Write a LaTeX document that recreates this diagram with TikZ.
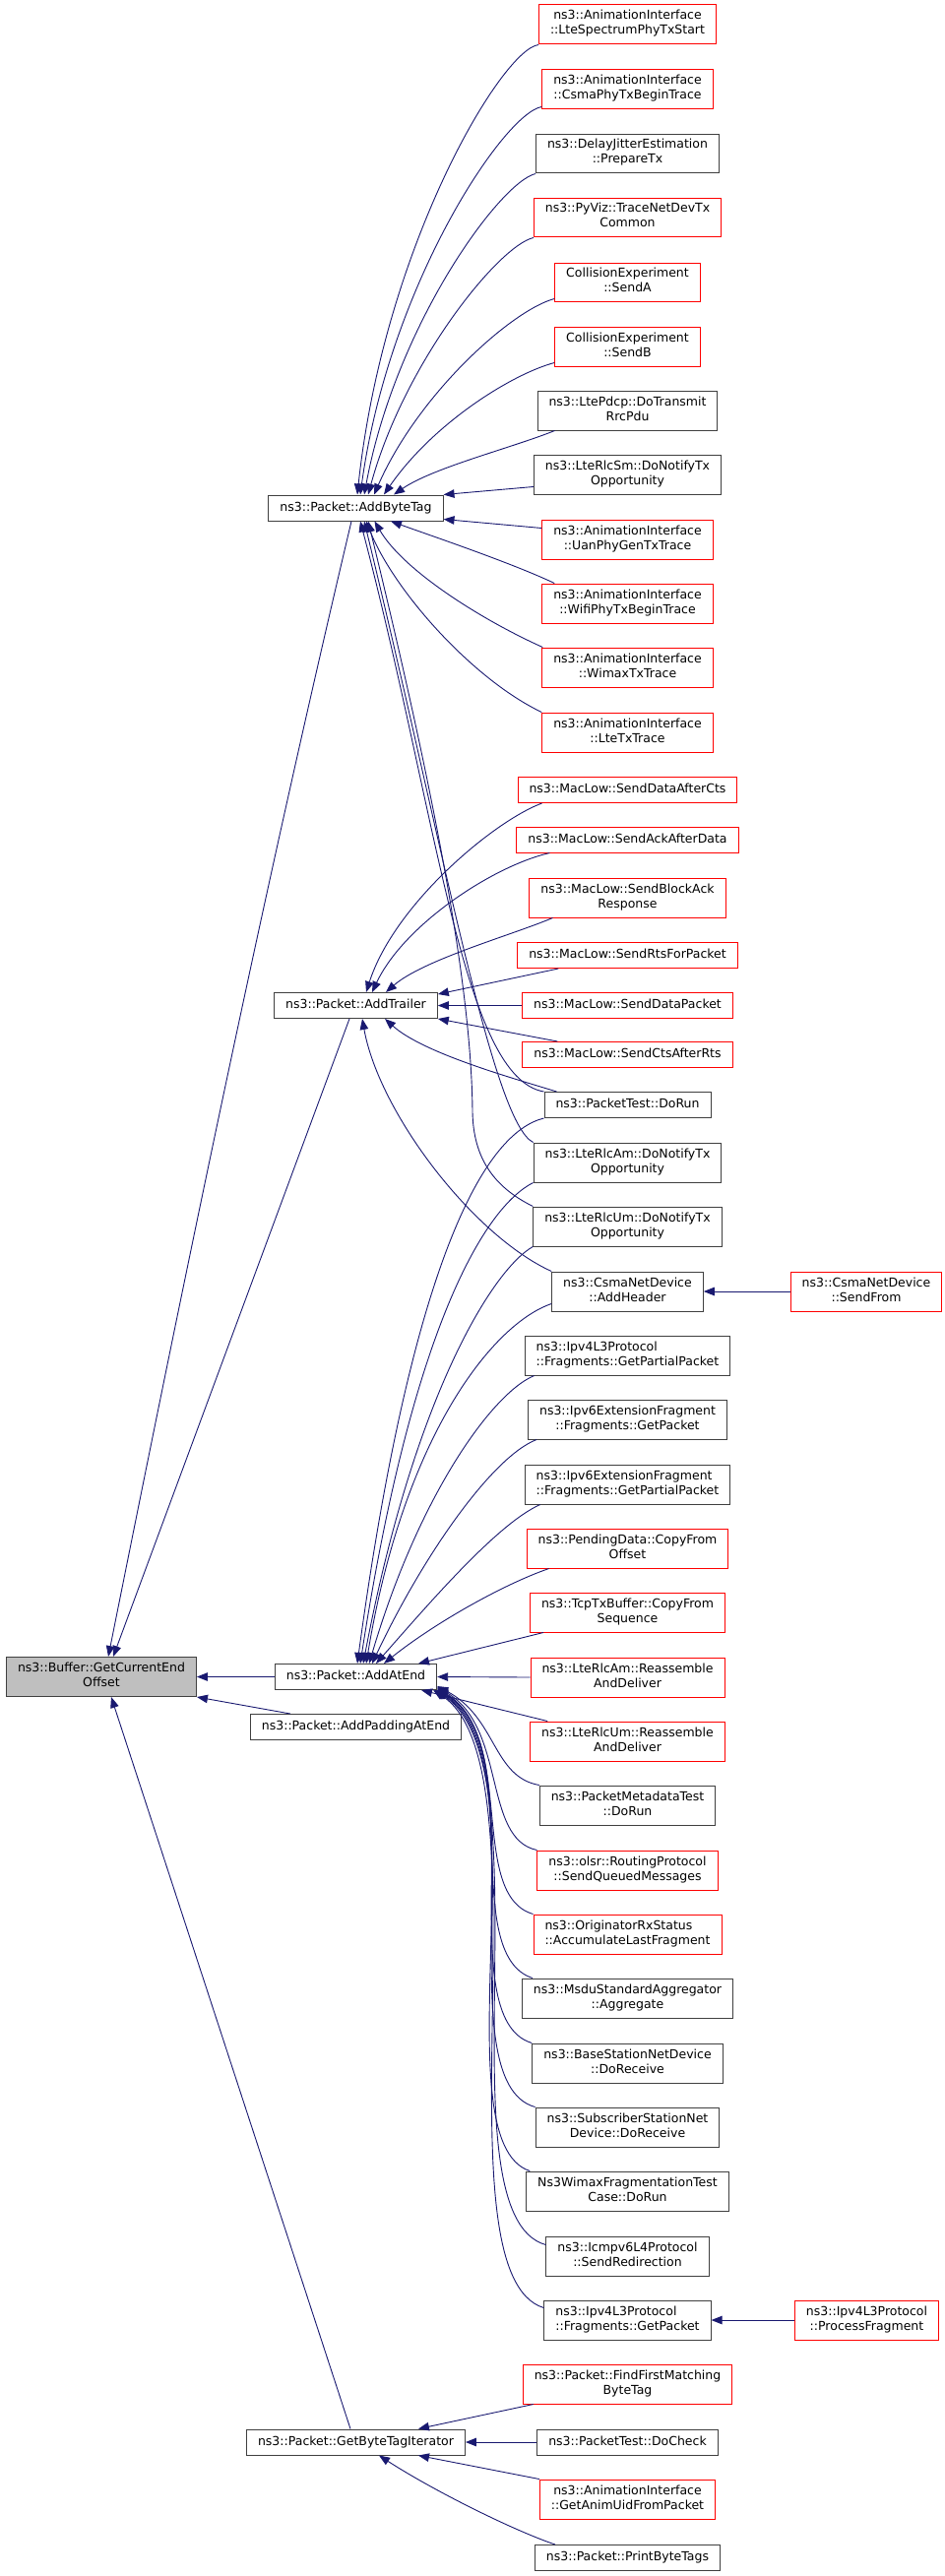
\documentclass[tikz,border=0pt]{standalone}
\usepackage{fontspec}
\setmainfont{DejaVu Sans}
\usetikzlibrary{arrows.meta}
\definecolor{edgeblue}{HTML}{191970}
\definecolor{boxgray}{HTML}{404040}
\definecolor{bufgray}{HTML}{BFBFBF}

\begin{document}
\begin{tikzpicture}[x=1pt, y=-1pt,
  fn/.style={draw=boxgray, line width=1pt, inner xsep=11.5pt, inner ysep=5.5pt, align=center,
    font=\fontsize{12.5}{15}\selectfont, execute at begin node=\strut},
  fnred/.style={fn, draw=red},
  fnleft/.style={fn, align=left},
  call/.style={draw=edgeblue, line width=0.9pt, -{Triangle[length=11pt,width=8.5pt]}}]

  \useasboundingbox (0,0) rectangle (960,2617);

  \node[fn, fill=bufgray] (curEnd) at (103,1703.5) {ns3::Buffer::GetCurrentEnd\\Offset};

  \node[fn] (addTag) at (361.5,516) {ns3::Packet::AddByteTag};
  \node[fn] (addTrl) at (361.5,1021.5) {ns3::Packet::AddTrailer};
  \node[fn] (addEnd) at (361.5,1703.5) {ns3::Packet::AddAtEnd};
  \node[fn] (addPad) at (361.5,1754.5) {ns3::Packet::AddPaddingAtEnd};
  \node[fn] (tagIter) at (361.5,2481) {ns3::Packet::GetByteTagIterator};

  \node[fnred] (lteSpec) at (637.5,25) {ns3::AnimationInterface\\::LteSpectrumPhyTxStart};
  \node[fnred] (csmaPhy) at (637.5,91) {ns3::AnimationInterface\\::CsmaPhyTxBeginTrace};
  \node[fn] (delayJit) at (637.5,156) {ns3::DelayJitterEstimation\\::PrepareTx};
  \node[fnred] (pyViz) at (637.5,221) {ns3::PyViz::TraceNetDevTx\\Common};
  \node[fnred] (sendA) at (637.5,287) {CollisionExperiment\\::SendA};
  \node[fnred] (sendB) at (637.5,352) {CollisionExperiment\\::SendB};
  \node[fn] (ltePdcp) at (637.5,417) {ns3::LtePdcp::DoTransmit\\RrcPdu};
  \node[fn] (lteRlcSm) at (637.5,482) {ns3::LteRlcSm::DoNotifyTx\\Opportunity};
  \node[fnred] (uanPhy) at (637.5,548) {ns3::AnimationInterface\\::UanPhyGenTxTrace};
  \node[fnred] (wifiPhy) at (637.5,613) {ns3::AnimationInterface\\::WifiPhyTxBeginTrace};
  \node[fnred] (wimaxTx) at (637.5,678) {ns3::AnimationInterface\\::WimaxTxTrace};
  \node[fnred] (lteTx) at (637.5,744) {ns3::AnimationInterface\\::LteTxTrace};

  \node[fnred] (dataCts) at (637.5,802.5) {ns3::MacLow::SendDataAfterCts};
  \node[fnred] (ackData) at (637.5,853) {ns3::MacLow::SendAckAfterData};
  \node[fnred] (blockAck) at (637.5,912) {ns3::MacLow::SendBlockAck\\Response};
  \node[fnred] (rtsPkt) at (637.5,970.5) {ns3::MacLow::SendRtsForPacket};
  \node[fnred] (dataPkt) at (637.5,1021.5) {ns3::MacLow::SendDataPacket};
  \node[fnred] (ctsRts) at (637.5,1071.5) {ns3::MacLow::SendCtsAfterRts};
  \node[fn] (pktRun) at (637.5,1122.5) {ns3::PacketTest::DoRun};
  \node[fn] (rlcAmTx) at (637.5,1181) {ns3::LteRlcAm::DoNotifyTx\\Opportunity};
  \node[fn] (rlcUmTx) at (637.5,1246) {ns3::LteRlcUm::DoNotifyTx\\Opportunity};
  \node[fn] (addHdr) at (637.5,1312) {ns3::CsmaNetDevice\\::AddHeader};
  \node[fnred] (sendFrom) at (880,1312) {ns3::CsmaNetDevice\\::SendFrom};

  \node[fnleft] (v4Partial) at (637.5,1377) {ns3::Ipv4L3Protocol\\::Fragments::GetPartialPacket};
  \node[fn] (v6Get) at (637.5,1442) {ns3::Ipv6ExtensionFragment\\::Fragments::GetPacket};
  \node[fnleft] (v6Partial) at (637.5,1508) {ns3::Ipv6ExtensionFragment\\::Fragments::GetPartialPacket};
  \node[fnred] (pendData) at (637.5,1573) {ns3::PendingData::CopyFrom\\Offset};
  \node[fnred] (tcpBuf) at (637.5,1638) {ns3::TcpTxBuffer::CopyFrom\\Sequence};
  \node[fnred] (rlcAmRe) at (637.5,1704) {ns3::LteRlcAm::Reassemble\\AndDeliver};
  \node[fnred] (rlcUmRe) at (637.5,1769) {ns3::LteRlcUm::Reassemble\\AndDeliver};
  \node[fn] (metaRun) at (637.5,1834) {ns3::PacketMetadataTest\\::DoRun};
  \node[fnred] (olsrSend) at (637.5,1900) {ns3::olsr::RoutingProtocol\\::SendQueuedMessages};
  \node[fnred, align=left] (origAcc) at (637.5,1965) {ns3::OriginatorRxStatus\\::AccumulateLastFragment};
  \node[fn] (msduAgg) at (637.5,2030) {ns3::MsduStandardAggregator\\::Aggregate};
  \node[fn] (bsRecv) at (637.5,2096) {ns3::BaseStationNetDevice\\::DoReceive};
  \node[fn] (ssRecv) at (637.5,2161) {ns3::SubscriberStationNet\\Device::DoReceive};
  \node[fn] (wimaxFrag) at (637.5,2226) {Ns3WimaxFragmentationTest\\Case::DoRun};
  \node[fn] (icmpRedir) at (637.5,2292) {ns3::Icmpv6L4Protocol\\::SendRedirection};
  \node[fnleft] (v4Get) at (637.5,2357) {ns3::Ipv4L3Protocol\\::Fragments::GetPacket};
  \node[fnred] (procFrag) at (880.5,2357) {ns3::Ipv4L3Protocol\\::ProcessFragment};

  \node[fnred] (findTag) at (637.5,2422) {ns3::Packet::FindFirstMatching\\ByteTag};
  \node[fn] (pktCheck) at (637.5,2481) {ns3::PacketTest::DoCheck};
  \node[fnred] (animUid) at (637.5,2539) {ns3::AnimationInterface\\::GetAnimUidFromPacket};
  \node[fn] (printTags) at (637.5,2598.5) {ns3::Packet::PrintByteTags};

  % callers of AddByteTag
  \draw[call] (lteSpec.south west) .. controls (510,50) and (390,250) .. ([xshift=1.5pt]addTag.north);
  \draw[call] ([yshift=3pt]csmaPhy.south west) .. controls (512,115) and (395,290) .. ([xshift=4.5pt]addTag.north);
  \draw[call] (delayJit.south west) .. controls (508,185) and (402,330) .. ([xshift=8.5pt]addTag.north);
  \draw[call] (pyViz.south west) .. controls (506,250) and (410,370) .. ([xshift=12.5pt]addTag.north);
  \draw[call] ([yshift=4pt]sendA.south west) .. controls (520,315) and (425,400) .. ([xshift=18.5pt]addTag.north);
  \draw[call] ([yshift=4pt]sendB.south west) .. controls (520,380) and (440,430) .. ([xshift=28.5pt]addTag.north);
  \draw[call] ([xshift=18pt]ltePdcp.south west) .. controls (520,455) and (440,475) .. ([xshift=38.5pt]addTag.north);
  \draw[call] ([yshift=8pt]lteRlcSm.south west) -- (addTag.north east);
  \draw[call] ([yshift=-9pt]uanPhy.north west) -- ([yshift=2pt]addTag.south east);
  \draw[call] ([xshift=13pt]wifiPhy.north west) .. controls (520,572) and (440,545) .. ([xshift=35.5pt]addTag.south);
  \draw[call] ([xshift=1pt]wimaxTx.north west) .. controls (490,630) and (410,580) .. ([xshift=19pt]addTag.south);
  \draw[call] (lteTx.north west) .. controls (480,690) and (400,600) .. ([xshift=10.5pt]addTag.south);
  \draw[call] (pktRun.north west) .. controls (470,1095) and (445,830) .. ([xshift=4.5pt]addTag.south);
  \draw[call] (rlcAmTx.north west) .. controls (500,1140) and (448,850) .. ([xshift=8.5pt]addTag.south);
  \draw[call] (rlcUmTx.north west) .. controls (500,1205) and (481,1175) .. (480,1130)
    .. controls (479,1000) and (440,800) .. ([xshift=12.5pt]addTag.south);

  % callers of AddTrailer
  \draw[call] ([xshift=25pt]dataCts.south west) .. controls (500,835) and (400,920) .. ([xshift=10.5pt]addTrl.north);
  \draw[call] ([xshift=34pt]ackData.south west) .. controls (500,880) and (410,940) .. ([xshift=16.5pt]addTrl.north);
  \draw[call] ([xshift=24pt]blockAck.south west) .. controls (520,950) and (430,975) .. ([xshift=30.5pt]addTrl.north);
  \draw[call] ([xshift=42pt]rtsPkt.south west) -- ([yshift=-2pt]addTrl.north east);
  \draw[call] (dataPkt.west) -- (addTrl.east);
  \draw[call] ([xshift=36pt]ctsRts.north west) -- (addTrl.south east);
  \draw[call] ([xshift=13pt]pktRun.north west) .. controls (520,1095) and (430,1070) .. ([xshift=29.5pt]addTrl.south);
  \draw[call] (addHdr.north west) .. controls (480,1255) and (385,1130) .. ([xshift=6.5pt]addTrl.south);

  % callers of AddAtEnd
  \draw[call] (pktRun.south west) .. controls (495,1150) and (420,1270) .. ([xshift=1.5pt]addEnd.north);
  \draw[call] (rlcAmTx.south west) .. controls (495,1225) and (420,1340) .. ([xshift=4.5pt]addEnd.north);
  \draw[call] (rlcUmTx.south west) .. controls (500,1290) and (420,1420) .. ([xshift=7.5pt]addEnd.north);
  \draw[call] ([yshift=8pt]addHdr.south west) .. controls (500,1345) and (410,1460) .. ([xshift=10.5pt]addEnd.north);
  \draw[call] ([xshift=10pt]v4Partial.south west) .. controls (500,1415) and (425,1520) .. ([xshift=13.5pt]addEnd.north);
  \draw[call] ([xshift=9pt]v6Get.south west) .. controls (500,1480) and (430,1580) .. ([xshift=16.5pt]addEnd.north);
  \draw[call] ([xshift=16pt]v6Partial.south west) .. controls (505,1548) and (435,1630) .. ([xshift=20.5pt]addEnd.north);
  \draw[call] ([xshift=23pt]pendData.south west) .. controls (510,1610) and (440,1650) .. ([xshift=28.5pt]addEnd.north);
  \draw[call] ([xshift=14pt]tcpBuf.south west) -- ([xshift=63.5pt]addEnd.north);
  \draw[call] (rlcAmRe.west) -- (addEnd.east);
  \draw[call] ([xshift=18pt]rlcUmRe.north west) -- ([xshift=66.5pt]addEnd.south);
  \draw[call] (metaRun.north west) .. controls (500,1805) and (505,1745) .. ([yshift=4pt]addEnd.south east);
  \draw[call] (olsrSend.north west) .. controls (490,1868) and (515,1755) .. ([yshift=3pt]addEnd.south east);
  \draw[call] (origAcc.north west) .. controls (475,1925) and (525,1765) .. ([yshift=2pt]addEnd.south east);
  \draw[call] ([xshift=11pt]msduAgg.north west) .. controls (465,1985) and (535,1770) .. ([yshift=1pt]addEnd.south east);
  \draw[call] (bsRecv.north west) .. controls (455,2050) and (545,1775) .. (addEnd.south east);
  \draw[call] (ssRecv.north west) .. controls (450,2115) and (550,1780) .. ([xshift=-1pt]addEnd.south east);
  \draw[call] ([xshift=4pt]wimaxFrag.north west) .. controls (445,2175) and (555,1785) .. ([xshift=-2pt]addEnd.south east);
  \draw[call] ([yshift=-9pt]icmpRedir.north west) .. controls (445,2250) and (560,1790) .. ([xshift=-3pt]addEnd.south east);
  \draw[call] ([yshift=-8pt]v4Get.north west) .. controls (440,2310) and (560,1795) .. ([xshift=-4pt]addEnd.south east);

  % callers of Buffer::GetCurrentEndOffset
  \draw[call] ([xshift=-4.5pt]addTag.south) .. controls (266,914) and (187,1299) .. ([xshift=7pt]curEnd.north);
  \draw[call] ([xshift=-6.5pt]addTrl.south) -- ([xshift=12pt]curEnd.north);
  \draw[call] (addEnd.west) -- (curEnd.east);
  \draw[call] ([xshift=41pt]addPad.north west) -- (curEnd.south east);
  \draw[call] ([xshift=-5.5pt]tagIter.north) -- ([xshift=10pt]curEnd.south);

  \draw[call] (sendFrom.west) -- (addHdr.east);
  \draw[call] (procFrag.west) -- (v4Get.east);

  % callers of GetByteTagIterator
  \draw[call] ([xshift=11pt]findTag.south west) -- ([xshift=-48pt]tagIter.north east);
  \draw[call] (pktCheck.west) -- (tagIter.east);
  \draw[call] (animUid.north west) -- ([xshift=-48pt]tagIter.south east);
  \draw[call] ([xshift=21pt]printTags.north west) .. controls (520,2570) and (440,2530) .. ([xshift=23.5pt]tagIter.south);

\end{tikzpicture}
\end{document}
